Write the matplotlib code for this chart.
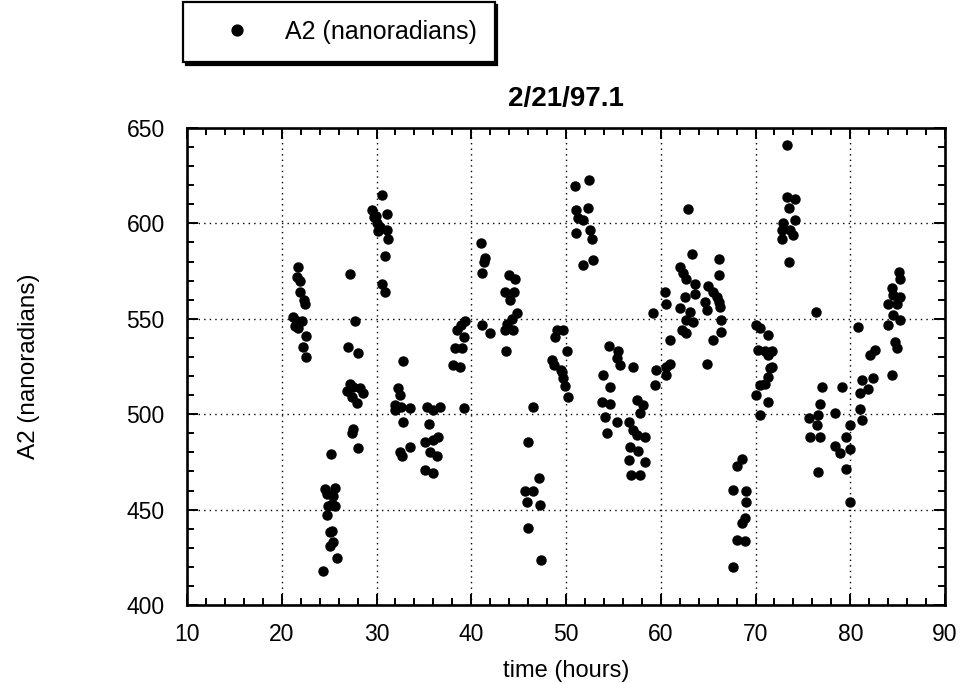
import matplotlib
matplotlib.use("Agg")
import matplotlib.pyplot as plt
from matplotlib.ticker import MultipleLocator

plt.rcParams['font.family'] = ['Liberation Sans', 'DejaVu Sans']

title = "2/21/97.1"
series_label = "A2 (nanoradians)"

# elapsed time of each reading (hours)
hours = [
    21.75, 21.6, 21.9, 21.9, 22.3, 22.45, 21.2, 21.6, 22.1, 21.4, 21.75, 22.6, 22.2, 22.6,
    24.6, 25.6, 24.75, 25.45, 25.3, 24.9, 25.6, 24.75, 25.3, 25.1, 25.45, 25.1, 25.8, 24.4, 25.2,
    27.2, 27.7, 27.0, 28.0, 27.2, 27.55, 28.3, 26.85, 28.6, 27.4, 27.9, 27.5, 27.45, 28.1,
    30.55, 29.5, 31.1, 29.7, 30.0, 30.2, 31.1, 31.25, 30.9, 30.55, 30.9, 29.9, 30.4,
    32.8, 32.3, 32.5, 31.9, 32.6, 33.5, 31.9, 32.8, 32.5, 32.7, 33.5,
    35.3, 36.0, 35.5, 35.1, 36.0, 35.6, 36.35, 35.1, 36.0, 36.7, 36.5,
    39.3, 38.5, 39.2, 38.3, 39.0, 38.1, 38.8, 39.2, 38.9,
    41.0, 41.45, 41.3, 41.1, 41.1, 42.0,
    44.0, 44.6, 43.6, 44.5, 44.1, 44.8, 44.25, 43.75, 43.6, 44.4, 43.7,
    46.55, 45.95, 47.1, 45.7, 46.55, 45.85, 47.25, 46.0, 47.4,
    49.0, 49.7, 48.8, 50.1, 48.5, 48.7, 49.5, 49.55, 49.7, 49.9, 50.25,
    51.0, 52.45, 51.1, 52.35, 51.3, 51.8, 51.1, 52.5, 52.7, 52.8, 51.8,
    54.5, 55.5, 55.35, 55.7, 53.95, 54.6, 53.75, 54.6, 54.1, 55.35, 54.3,
    57.1, 57.45, 58.15, 57.8, 56.6, 57.1, 57.45, 58.3, 56.75, 57.6, 56.6, 58.3, 56.9, 57.8,
    59.55, 60.6, 61.0, 59.4, 60.6, 59.2, 60.45, 60.6, 61.0,
    62.9, 63.3, 62.0, 62.4, 62.7, 63.6, 63.6, 62.55, 64.7, 64.85, 62.0, 63.1, 62.7, 63.4,
    62.2, 62.7, 65.0, 65.55, 65.9, 66.1, 66.25, 66.2, 66.1, 66.4, 66.4, 65.55, 64.85,
    68.55, 68.0, 67.65, 69.05, 69.05, 68.9, 68.55, 68.0, 68.9, 67.65,
    70.1, 70.5, 71.35, 70.3, 71.0, 71.7, 71.35, 71.7, 71.5, 71.35, 70.5, 71.0, 70.1, 71.35, 70.5,
    73.3, 73.3, 74.2, 73.5, 72.9, 74.2, 72.75, 73.65, 74.0, 72.75, 73.5,
    76.35, 77.0, 76.8, 75.6, 76.6, 76.45, 75.75, 76.8, 76.6, 78.4, 79.15, 80.0, 79.5, 78.4,
    78.9, 80.0, 79.5, 80.0,
    80.85, 82.1, 82.6, 81.2, 81.9, 82.4, 84.4, 81.0, 81.0, 81.2,
    85.1, 85.25, 84.4, 84.55, 85.25, 84.0, 84.9, 84.55, 85.25, 84.0, 84.7, 84.9,
]

# A2 tilt reading (nanoradians)
a2 = [
    577, 572, 570, 564, 560, 558, 551, 549, 549, 546, 545, 541, 535, 530,
    461, 461.5, 458, 457, 453, 452, 452, 447, 439, 438, 433, 431, 424.5, 418, 479,
    573.5, 549, 535, 532, 516, 514, 513.5, 512, 511, 509, 506, 492, 490, 482.5,
    615, 607, 605, 603.5, 600, 596, 596.5, 592, 583, 568.5, 564, 604, 598,
    528, 513.5, 510, 505, 504, 503, 502, 496, 480, 478, 483,
    504, 502, 495, 485.5, 486.5, 480, 478, 471, 469, 504, 488,
    549, 544, 540.5, 534.5, 534.5, 526, 525, 503, 547,
    589.5, 582, 580, 574, 547, 542.5,
    573, 571, 564, 564, 560, 553, 550, 547.5, 544, 544, 533,
    504, 485.5, 466.5, 459.5, 459.5, 454, 452.5, 440.5, 423.5,
    544, 544, 540.5, 533, 528.5, 526, 523, 522, 519, 515, 509,
    619.5, 622.5, 607, 608, 603, 602, 595, 596.5, 592, 581, 578,
    536, 533, 529.5, 526, 520.5, 514.5, 506.5, 505.5, 498.5, 496, 490,
    525, 507.5, 505, 500.5, 496, 491.5, 489, 488, 483, 480.5, 476, 475, 468, 468,
    523, 525, 526.5, 515.5, 520.5, 553, 564, 558, 539,
    607.5, 584, 577, 574, 571, 568.5, 563, 561.5, 559, 554.5, 555.5, 553.5, 549.5, 548.5,
    544, 542.5, 567, 564, 561.5, 559, 556, 581.5, 573, 549.5, 543, 539, 526.5,
    476.5, 473, 460.5, 459.5, 454, 445.5, 443, 434, 433.5, 420,
    547, 545, 541.5, 533.5, 533, 533, 531, 525, 524, 519.5, 515.5, 516, 510, 506.5, 499.5,
    641, 614, 613, 608, 600, 602, 596.5, 596.5, 594, 592, 580,
    553.5, 514, 505.5, 498, 499.5, 494.5, 488, 488, 469.5, 500.5, 514, 494.5, 488, 483.5,
    479.5, 481.5, 471.5, 454,
    545.5, 531, 533.5, 518, 513, 519, 520.5, 511, 502.5, 497,
    574.5, 571, 566, 562.5, 561.5, 558, 557.5, 552, 549.5, 547, 538, 534.5,
]

fig = plt.figure(figsize=(9.72, 6.83), dpi=100)
ax = fig.add_axes([187 / 972, 1 - 605 / 683, 758 / 972, 477 / 683])

ax.plot(hours, a2, 'o', color='black', markersize=6.5, linestyle='none',
        label=series_label)

ax.set_xlim(10, 90)
ax.set_ylim(400, 650)
ax.xaxis.set_major_locator(MultipleLocator(10))
ax.xaxis.set_minor_locator(MultipleLocator(2))
ax.yaxis.set_major_locator(MultipleLocator(50))
ax.yaxis.set_minor_locator(MultipleLocator(10))

ax.grid(True, which='major', color='black', linestyle=(0, (1, 3)), linewidth=1.0)
ax.tick_params(which='both', direction='in', top=True, right=True,
               width=1.4, labelsize=16.5)
ax.tick_params(which='major', length=8)
ax.tick_params(which='minor', length=5)
ax.tick_params(axis='x', pad=13)
ax.tick_params(axis='y', pad=16)
for sp in ax.spines.values():
    sp.set_linewidth(1.9)

ax.set_title(title, fontsize=20, fontweight='bold', pad=16)
ax.set_xlabel("time (hours)", fontsize=17, labelpad=10)
ax.set_ylabel(series_label, fontsize=17.5, labelpad=62)

leg = fig.legend(loc='upper left', bbox_to_anchor=(183 / 972, 1 - 2 / 683),
                 fontsize=18, frameon=True, fancybox=False,
                 shadow={'color': 'black', 'alpha': 1},
                 borderpad=0.72, handlelength=2.9, handletextpad=0.45,
                 borderaxespad=0, numpoints=1, markerscale=1.2)
leg.get_frame().set_edgecolor('black')
leg.get_frame().set_linewidth(1.6)
leg.get_frame().set_alpha(1)

fig.savefig('out.png', dpi=100)
